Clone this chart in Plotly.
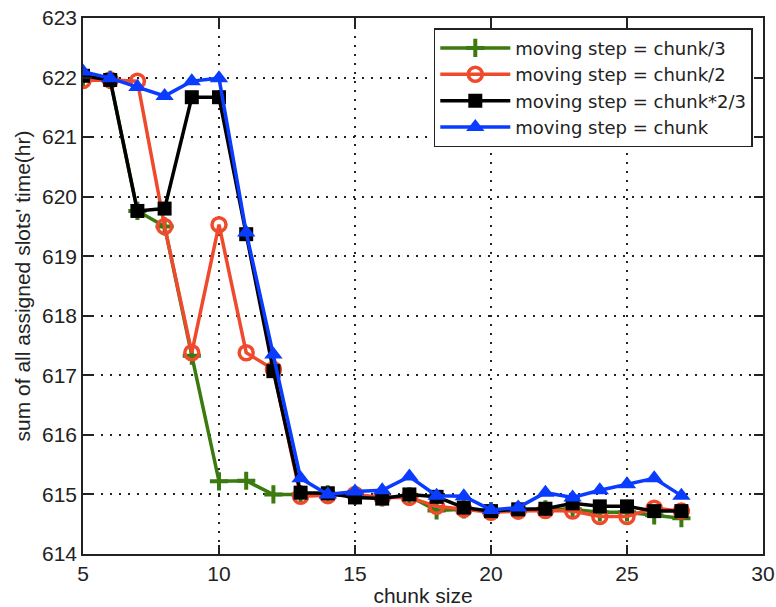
import plotly.graph_objects as go

chunk = list(range(5, 28))
step_third = [622.0, 621.96, 619.76, 619.5, 617.33, 615.22, 615.23, 615.0, 615.0, 615.0, 614.98, 614.95,
              614.97, 614.73, 614.75, 614.72, 614.73, 614.75, 614.75, 614.7, 614.7, 614.65, 614.6]
step_half = [621.95, 621.96, 621.94, 619.5, 617.38, 619.53, 617.38, 617.1, 614.97, 614.98, 615.0, 614.95,
             614.95, 614.8, 614.75, 614.7, 614.72, 614.73, 614.72, 614.63, 614.63, 614.77, 614.72]
step_two_thirds = [622.03, 621.96, 619.76, 619.8, 621.67, 621.67, 619.37, 617.07, 615.03, 615.02, 614.95, 614.93,
                   615.0, 614.96, 614.78, 614.72, 614.75, 614.76, 614.85, 614.8, 614.8, 614.72, 614.72]
step_full = [622.1, 621.99, 621.84, 621.69, 621.94, 621.99, 619.4, 617.35, 615.27, 615.0, 615.05, 615.07,
             615.3, 614.98, 614.97, 614.74, 614.78, 615.03, 614.95, 615.07, 615.17, 615.27, 614.98]

names = ["moving step = chunk/3", "moving step = chunk/2", "moving step = chunk*2/3", "moving step = chunk"]

FONT = "Liberation Sans, Arial, Helvetica"

fig = go.Figure()
fig.add_trace(go.Scatter(x=chunk, y=step_third, name=names[0], mode="lines+markers",
                         line=dict(color="#3b7a0f", width=3.5),
                         marker=dict(symbol="cross-thin", size=13, line=dict(color="#3b7a0f", width=4))))
fig.add_trace(go.Scatter(x=chunk, y=step_half, name=names[1], mode="lines+markers",
                         line=dict(color="#f04a2c", width=3.5),
                         marker=dict(symbol="circle-open", size=14, line=dict(color="#f04a2c", width=3.5))))
fig.add_trace(go.Scatter(x=chunk, y=step_two_thirds, name=names[2], mode="lines+markers",
                         line=dict(color="black", width=3.5),
                         marker=dict(symbol="square", size=14, color="black")))
fig.add_trace(go.Scatter(x=chunk, y=step_full, name=names[3], mode="lines+markers",
                         line=dict(color="#0a3cff", width=3.5),
                         marker=dict(symbol="triangle-up", size=16, color="#0a3cff")))

axis_common = dict(showline=True, linecolor="#222", linewidth=1.5, mirror="ticks",
                   ticks="inside", ticklen=9, tickcolor="#222", tickwidth=1.5,
                   showgrid=True, gridcolor="#222", griddash="2px,7px", gridwidth=1.5,
                   zeroline=False, tickfont=dict(family=FONT, size=21, color="#222"))

fig.update_xaxes(range=[5, 30], dtick=5, tick0=5, automargin=False,
                 title=dict(text="chunk size", font=dict(family=FONT, size=21, color="#222"), standoff=9),
                 **axis_common)
fig.update_yaxes(range=[614, 623], dtick=1, automargin=False,
                 title=dict(text="sum of all assigned slots' time(hr)", font=dict(family=FONT, size=21, color="#222"), standoff=6),
                 **axis_common)

fig.update_layout(
    width=776, height=607,
    margin=dict(l=83, r=13, t=18, b=53),
    paper_bgcolor="white", plot_bgcolor="white",
    showlegend=True,
    legend=dict(x=0.985, y=0.981, xanchor="right", yanchor="top",
                bgcolor="white", bordercolor="#222", borderwidth=1.5,
                font=dict(family="DejaVu Sans", size=18, color="#222"),
                itemwidth=70, tracegroupgap=0),
)

fig.write_html("out.html")
